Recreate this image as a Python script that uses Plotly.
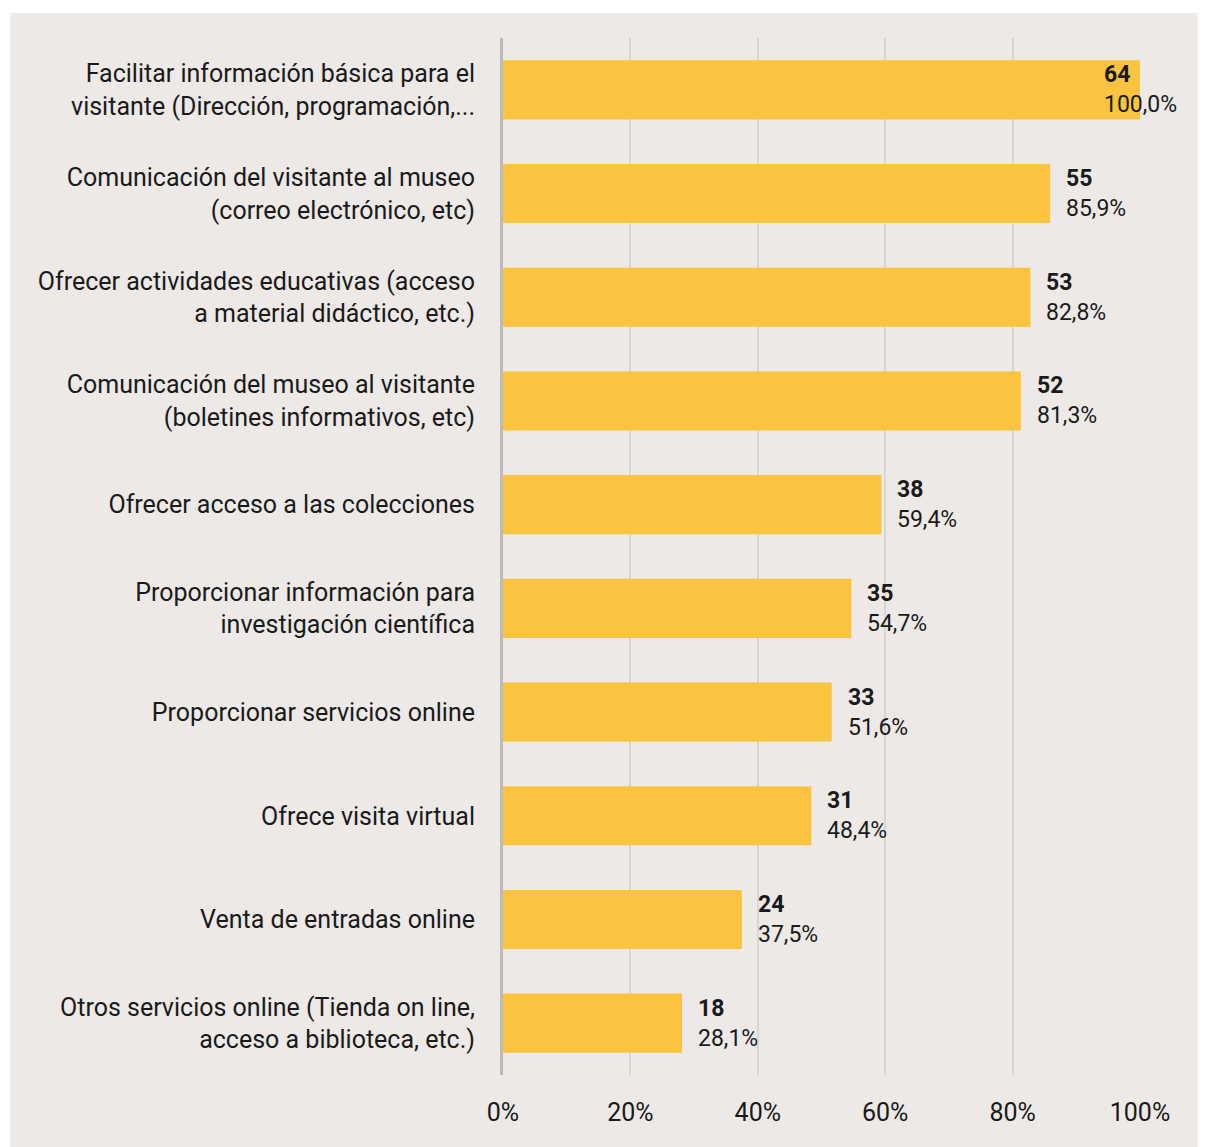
import plotly.graph_objects as go

# servicios ofrecidos en la web del museo
categorias = [
    "Facilitar información básica para el<br>visitante (Dirección, programación,...",
    "Comunicación del visitante al museo<br>(correo electrónico, etc)",
    "Ofrecer actividades educativas (acceso<br>a material didáctico, etc.)",
    "Comunicación del museo al visitante<br>(boletines informativos, etc)",
    "Ofrecer acceso a las colecciones",
    "Proporcionar información para<br>investigación científica",
    "Proporcionar servicios online",
    "Ofrece visita virtual",
    "Venta de entradas online",
    "Otros servicios online (Tienda on line,<br>acceso a biblioteca, etc.)",
]
museos = [64, 55, 53, 52, 38, 35, 33, 31, 24, 18]
porcentaje = [100.0, 85.9, 82.8, 81.3, 59.4, 54.7, 51.6, 48.4, 37.5, 28.1]
ticks = [0, 20, 40, 60, 80, 100]
ticks_txt = ["0%", "20%", "40%", "60%", "80%", "100%"]

fuente = "Roboto, sans-serif"
texto = "#1a1a1a"
fondo = "#ECE9E6"

# la página añade 8px de margen, el lienzo es algo menor
W, H = 1198, 1139
L, R, T, B = 495, 66, 30, 72
pw, ph = W - L - R, H - T - B

fig = go.Figure(go.Bar(
    x=porcentaje,
    y=categorias,
    orientation="h",
    marker=dict(color="#FBC440", line_width=0),
    hoverinfo="skip",
))

# etiquetas: numero en negrita y porcentaje debajo
for cat, n, p in zip(categorias, museos, porcentaje):
    fig.add_annotation(
        x=p, y=cat,
        text=f"<b>{n}</b><br>{p:.1f}%".replace(".", ","),
        showarrow=False,
        xanchor="left", align="left",
        xshift=14 if p < 95 else -38,
        font=dict(family=fuente, size=23, color=texto),
    )

fig.update_layout(
    width=W, height=H,
    margin=dict(l=L, r=R, t=T, b=B),
    paper_bgcolor="white",
    plot_bgcolor="rgba(0,0,0,0)",
    bargap=0.43,
    showlegend=False,
    font=dict(family=fuente, size=25, color=texto),
    shapes=[dict(
        type="rect", xref="paper", yref="paper", layer="below",
        x0=(2 - L) / pw, x1=(W - L) / pw,
        y0=-B / ph, y1=1 + (T - 5) / ph,
        fillcolor=fondo, line_width=0,
    )],
    xaxis=dict(
        range=[0, 100],
        tickvals=ticks,
        ticktext=ticks_txt,
        showgrid=True, gridcolor="#D8D6D3", gridwidth=2,
        zeroline=False, showline=False,
        ticklabelstandoff=20,
        tickfont=dict(family=fuente, size=25, color=texto),
    ),
    yaxis=dict(
        autorange="reversed",
        showline=True, linecolor="#BDBBB9", linewidth=3,
        showgrid=False,
        ticklabelstandoff=20,
        tickfont=dict(family=fuente, size=25, color=texto),
    ),
)

fig.write_html("out.html")
